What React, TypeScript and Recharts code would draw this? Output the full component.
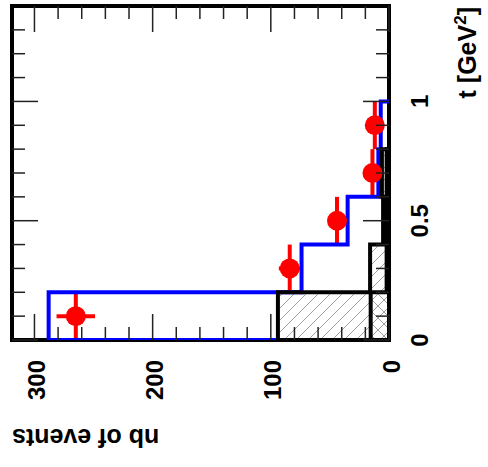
import React from 'react';
import { ComposedChart, XAxis, YAxis, Scatter, ErrorBar, ReferenceArea } from 'recharts';

// ---- data ----
const binEdges = [0, 0.2, 0.4, 0.6, 0.8, 1.0];
const blueCounts = [288, 74, 35, 9, 7];
const hatchACounts = [94, 16, 5, 6];
const hatchBCounts = [15.5, 2, 2, 2];
const dataT = [0.1, 0.3, 0.5, 0.7, 0.9];
const dataCounts = [265, 84, 44, 14, 12];
const dataCountErr = [16.3, 9.2, 6.6, 3.7, 3.5];
const dataTErr = [0.1, 0.1, 0.1, 0.1, 0.1];
const countTicks = [0, 20, 40, 60, 80, 100, 120, 140, 160, 180, 200, 220, 240, 260, 280, 300];
const countMajor = [0, 100, 200, 300];
const tTicks = [0, 0.1, 0.2, 0.3, 0.4, 0.5, 0.6, 0.7, 0.8, 0.9, 1.0, 1.1, 1.2, 1.3];
const tMajor = [0, 0.5, 1];
const countDomain = [0, 319];
const tDomain = [0, 1.4];
const xTitle = 'nb of events';

const FONT = '"Liberation Sans", Arial, Helvetica, sans-serif';
const TICK = '#222';

function stepOutline(counts: number[]) {
  const pts: { v: number; t: number }[] = [{ v: 0, t: binEdges[0] }];
  counts.forEach((c, i) => {
    pts.push({ v: c, t: binEdges[i] });
    pts.push({ v: c, t: binEdges[i + 1] });
  });
  pts.push({ v: 0, t: binEdges[counts.length] });
  return pts;
}

const blueLine = stepOutline(blueCounts);
const aLine = stepOutline(hatchACounts);
const bLine = stepOutline(hatchBCounts);
const points = dataT.map((t, i) => ({ t, v: dataCounts[i], vErr: dataCountErr[i], tErr: dataTErr[i] }));

const isMajorT = (t: number) => tMajor.some((m) => Math.abs(m - t) < 1e-6);
const fmtT = (t: number) => String(Math.round(t * 10) / 10);

const BottomTick = (props: any) => {
  const { x, y, payload } = props;
  const v = payload.value;
  const major = countMajor.includes(v);
  return (
    <g>
      <line x1={x} y1={y} x2={x} y2={y - (major ? 26 : 13)} stroke={TICK} strokeWidth={1.5} />
      {major && (
        <text
          transform={`translate(${x + 10.5},${y + 20}) rotate(-90)`}
          textAnchor="end"
          fontSize={24}
          fontWeight="bold"
          fontFamily={FONT}
          fill="#000"
        >
          {v}
        </text>
      )}
    </g>
  );
};

const TopTick = (props: any) => {
  const { x, y, payload } = props;
  const major = countMajor.includes(payload.value);
  return <line x1={x} y1={y} x2={x} y2={y + (major ? 26 : 13)} stroke={TICK} strokeWidth={1.5} />;
};

const LeftTick = (props: any) => {
  const { x, y, payload } = props;
  const major = isMajorT(payload.value);
  return <line x1={x} y1={y} x2={x + (major ? 26 : 13)} y2={y} stroke={TICK} strokeWidth={1.5} />;
};

const RightTick = (props: any) => {
  const { x, y, payload } = props;
  const t = payload.value;
  const major = isMajorT(t);
  return (
    <g>
      <line x1={x} y1={y} x2={x - (major ? 26 : 13)} y2={y} stroke={TICK} strokeWidth={1.5} />
      {major && (
        <text
          transform={`translate(${x + 39},${y}) rotate(-90)`}
          textAnchor="middle"
          fontSize={24}
          fontWeight="bold"
          fontFamily={FONT}
          fill="#000"
        >
          {fmtT(t)}
        </text>
      )}
    </g>
  );
};

const BottomTitle = (props: any) => {
  const vb = props.viewBox || { x: 12, y: 340 };
  return (
    <text
      transform={`translate(${vb.x},${vb.y + 89}) rotate(180)`}
      textAnchor="end"
      fontSize={25}
      fontWeight="bold"
      fontFamily={FONT}
      fill="#000"
    >
      {xTitle}
    </text>
  );
};

const RightTitle = (props: any) => {
  const vb = props.viewBox || { x: 389, y: 6 };
  return (
    <text
      transform={`translate(${vb.x + 87},${vb.y + 1}) rotate(-90)`}
      textAnchor="end"
      fontSize={25}
      fontWeight="bold"
      fontFamily={FONT}
      fill="#000"
    >
      t [GeV
      <tspan dy={-10} fontSize={17}>2</tspan>
      <tspan dy={10}>]</tspan>
    </text>
  );
};

const NoShape = () => <g />;
const RedDot = (props: any) => <circle cx={props.cx} cy={props.cy} r={10} fill="#ff0000" />;

export default function App() {
  const axisLine = { stroke: '#000', strokeWidth: 4, strokeLinecap: 'square' as const };
  return (
    <div style={{ position: 'absolute', left: 0, top: 0, width: 488, height: 467, background: '#fff' }}>
      <svg width={0} height={0} style={{ position: 'absolute' }}>
        <defs>
          <pattern id="hatchA" patternUnits="userSpaceOnUse" width={12} height={12}>
            <path d="M0,12 L12,0 M-3,3 L3,-3 M9,15 L15,9" stroke="#a0a0a0" strokeWidth={1} />
          </pattern>
          <pattern id="hatchB" patternUnits="userSpaceOnUse" width={12} height={12}>
            <path d="M0,0 L12,12 M-3,9 L3,15 M9,-3 L15,3" stroke="#a0a0a0" strokeWidth={1} />
          </pattern>
        </defs>
      </svg>
      <ComposedChart
        width={488}
        height={467}
        layout="vertical"
        margin={{ top: 6, left: 12, right: 0, bottom: 0 }}
      >
        <XAxis
          xAxisId="bottom"
          orientation="bottom"
          type="number"
          dataKey="v"
          domain={countDomain}
          allowDataOverflow
          reversed
          ticks={countTicks}
          interval={0}
          tickSize={0}
          tickMargin={0}
          height={127}
          axisLine={axisLine}
          tickLine={false}
          tick={BottomTick}
          label={BottomTitle}
        />
        <XAxis
          xAxisId="top"
          orientation="top"
          type="number"
          dataKey="v"
          domain={countDomain}
          allowDataOverflow
          reversed
          mirror
          ticks={countTicks}
          interval={0}
          tickSize={0}
          tickMargin={0}
          axisLine={axisLine}
          tickLine={false}
          tick={TopTick}
        />
        <YAxis
          yAxisId="right"
          orientation="right"
          type="number"
          dataKey="t"
          domain={tDomain}
          allowDataOverflow
          reversed
          ticks={tTicks}
          interval={0}
          tickSize={0}
          tickMargin={0}
          width={99}
          axisLine={axisLine}
          tickLine={false}
          tick={RightTick}
          label={RightTitle}
        />
        <YAxis
          yAxisId="left"
          orientation="left"
          type="number"
          dataKey="t"
          domain={tDomain}
          allowDataOverflow
          reversed
          mirror
          ticks={tTicks}
          interval={0}
          tickSize={0}
          tickMargin={0}
          axisLine={axisLine}
          tickLine={false}
          tick={LeftTick}
        />
        {hatchACounts.map((c, i) => (
          <ReferenceArea
            key={'a' + i}
            xAxisId="bottom"
            yAxisId="right"
            x1={0}
            x2={c}
            y1={binEdges[i]}
            y2={binEdges[i + 1]}
            fill="url(#hatchA)"
            fillOpacity={1}
            stroke="none"
            ifOverflow="visible"
          />
        ))}
        {hatchBCounts.map((c, i) => (
          <ReferenceArea
            key={'b' + i}
            xAxisId="bottom"
            yAxisId="right"
            x1={0}
            x2={c}
            y1={binEdges[i]}
            y2={binEdges[i + 1]}
            fill="url(#hatchB)"
            fillOpacity={1}
            stroke="none"
            ifOverflow="visible"
          />
        ))}
        <Scatter
          data={blueLine}
          xAxisId="bottom"
          yAxisId="right"
          fill="#0000ff"
          line={{ stroke: '#0000ff', strokeWidth: 4 }}
          shape={NoShape}
          isAnimationActive={false}
        />
        <Scatter
          data={aLine}
          xAxisId="bottom"
          yAxisId="right"
          fill="#000"
          line={{ stroke: '#000', strokeWidth: 4 }}
          shape={NoShape}
          isAnimationActive={false}
        />
        <Scatter
          data={bLine}
          xAxisId="bottom"
          yAxisId="right"
          fill="#000"
          line={{ stroke: '#000', strokeWidth: 4 }}
          shape={NoShape}
          isAnimationActive={false}
        />
        <Scatter
          data={points}
          xAxisId="bottom"
          yAxisId="right"
          fill="#ff0000"
          shape={RedDot}
          isAnimationActive={false}
        >
          <ErrorBar dataKey="tErr" direction="y" width={0} strokeWidth={4} stroke="#ff0000" />
          <ErrorBar dataKey="vErr" direction="x" width={0} strokeWidth={4} stroke="#ff0000" />
        </Scatter>
      </ComposedChart>
    </div>
  );
}
